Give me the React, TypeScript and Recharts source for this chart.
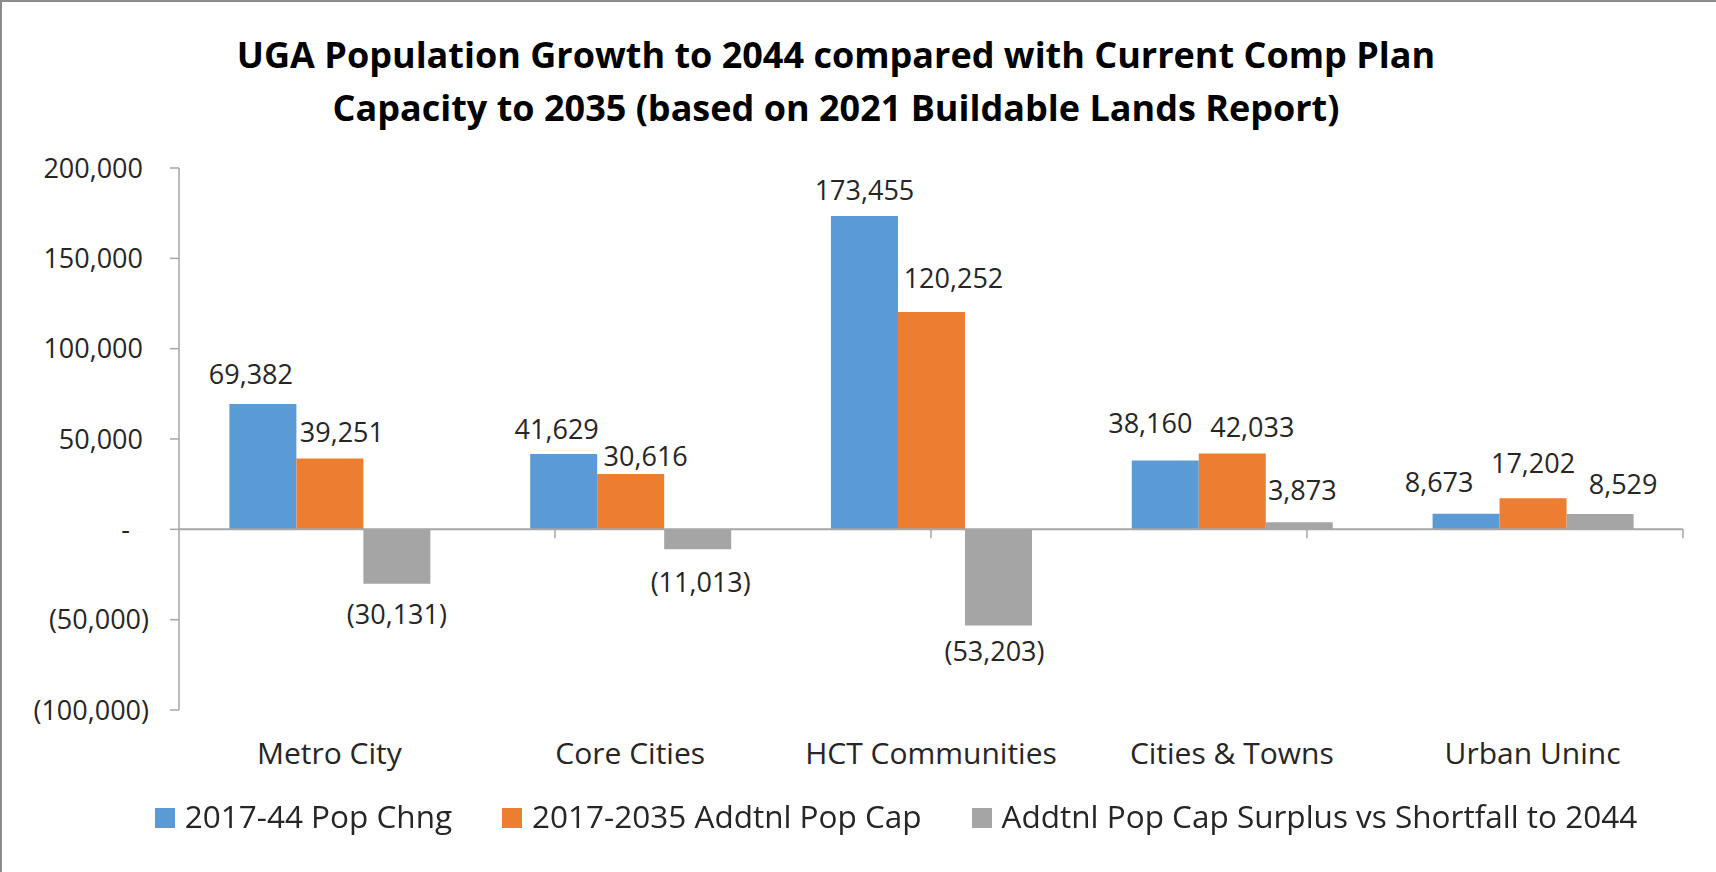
import { BarChart, Bar, XAxis, YAxis, ReferenceLine, LabelList } from 'recharts';

const categories = ['Metro City', 'Core Cities', 'HCT Communities', 'Cities & Towns', 'Urban Uninc'];
const popChange = [69382, 41629, 173455, 38160, 8673];
const addtnlCap = [39251, 30616, 120252, 42033, 17202];
const capSurplus = [-30131, -11013, -53203, 3873, 8529];
const seriesNames = [
  '2017-44 Pop Chng',
  '2017-2035 Addtnl Pop Cap',
  'Addtnl Pop Cap Surplus vs Shortfall to 2044',
];
const yTicks = [-100000, -50000, 0, 50000, 100000, 150000, 200000];

// label nudges (the source had some labels dragged sideways by hand)
const blueShift = [-12, -7, 0, -15, -27];
const blueGap = [20, 15, 16, 27, 22];
const orangeShift = [12, 15, 22, 20, 0];
const orangeGap = [16, 8, 24, 16, 25];
const grayShift = [0, 3, -4, 3, 23];
const grayGap = [21, 24, 17, 22, 20];

const COLORS = ['#5B9BD5', '#ED7D31', '#A5A5A5'];
const TEXT = '#262626';
const AXIS = '#A6A6A6';

const data = categories.map((name, i) => ({
  name,
  popChange: popChange[i],
  addtnlCap: addtnlCap[i],
  capSurplus: capSurplus[i],
}));

const fmt = (v: number) => {
  if (v === 0) return '-';
  const s = Math.abs(v).toLocaleString('en-US');
  return v < 0 ? `(${s})` : s;
};

const makeLabel = (values: number[], shifts: number[], gaps: number[]) => (props: any) => {
  const vb = props.viewBox ?? props;
  const { x, y, width, height } = vb;
  const value = Number(props.value);
  const i = props.index ?? values.indexOf(value);
  const top = Math.min(y, y + height);
  const bottom = Math.max(y, y + height);
  const cx = x + width / 2 + (shifts[i] ?? 0);
  const ty = value >= 0 ? top - (gaps[i] ?? 15) : bottom + (gaps[i] ?? 15) + 19;
  return (
    <text x={cx} y={ty} textAnchor="middle" fontSize={27} fill={TEXT}>
      {fmt(value)}
    </text>
  );
};

const YTick = (props: any) => {
  const { x, y, payload } = props;
  const v = payload.value;
  const end = v > 0 ? x - 25 : v < 0 ? x - 19 : x - 38;
  return (
    <text x={end} y={y} dy="0.36em" textAnchor="end" fontSize={27} fill={TEXT}>
      {fmt(v)}
    </text>
  );
};

export default function App() {
  const boundaries = categories.map((_, i) => i + 1);
  return (
    <div
      style={{
        position: 'fixed',
        left: 0,
        top: 0,
        width: 1716,
        height: 872,
        background: '#fff',
        fontFamily: '"Open Sans", sans-serif',
        borderLeft: '2px solid #8C8C8C',
        borderTop: '2px solid #8C8C8C',
        boxSizing: 'border-box',
      }}
    >
      <div
        style={{
          position: 'absolute',
          left: 0,
          top: 26,
          width: 1668,
          textAlign: 'center',
          fontSize: 36,
          fontWeight: 700,
          lineHeight: '53px',
          color: '#000',
        }}
      >
        UGA Population Growth to 2044 compared with Current Comp Plan
        <br />
        Capacity to 2035 (based on 2021 Buildable Lands Report)
      </div>

      <div style={{ position: 'absolute', left: -2, top: -2 }}>
        <BarChart
          width={1716}
          height={872}
          data={data}
          margin={{ top: 168, right: 33, bottom: 0, left: 0 }}
          barGap={0}
          barCategoryGap="16.75%"
        >
          <XAxis
            dataKey="name"
            axisLine={false}
            tickLine={false}
            tickSize={0}
            tickMargin={33}
            height={162}
            interval={0}
            tick={{ fontSize: 30, fill: TEXT }}
          />
          <XAxis xAxisId="grid" type="number" domain={[0, categories.length]} hide />
          <YAxis
            width={179}
            domain={[-100000, 200000]}
            ticks={yTicks}
            interval={0}
            axisLine={{ stroke: AXIS, strokeWidth: 1.5 }}
            tickLine={{ stroke: AXIS, strokeWidth: 1.5 }}
            tickSize={9}
            tick={<YTick />}
          />
          <ReferenceLine y={0} stroke={AXIS} strokeWidth={2} />
          {boundaries.map((k) => (
            <ReferenceLine
              key={k}
              xAxisId="grid"
              segment={[
                { x: k, y: 0 },
                { x: k, y: -5000 },
              ]}
              stroke={AXIS}
              strokeWidth={1.5}
            />
          ))}
          <Bar dataKey="popChange" name={seriesNames[0]} fill={COLORS[0]} isAnimationActive={false}>
            <LabelList dataKey="popChange" content={makeLabel(popChange, blueShift, blueGap)} />
          </Bar>
          <Bar dataKey="addtnlCap" name={seriesNames[1]} fill={COLORS[1]} isAnimationActive={false}>
            <LabelList dataKey="addtnlCap" content={makeLabel(addtnlCap, orangeShift, orangeGap)} />
          </Bar>
          <Bar dataKey="capSurplus" name={seriesNames[2]} fill={COLORS[2]} isAnimationActive={false}>
            <LabelList dataKey="capSurplus" content={makeLabel(capSurplus, grayShift, grayGap)} />
          </Bar>
        </BarChart>
      </div>

      <div
        style={{
          position: 'absolute',
          left: 14,
          top: 794,
          width: 1760,
          display: 'flex',
          justifyContent: 'center',
          alignItems: 'center',
          fontSize: 31.5,
          lineHeight: '40px',
          color: TEXT,
          whiteSpace: 'nowrap',
        }}
      >
        {seriesNames.map((s, i) => (
          <div key={s} style={{ display: 'flex', alignItems: 'center', marginRight: i < 2 ? 50 : 0 }}>
            <span
              style={{
                display: 'inline-block',
                width: 20,
                height: 20,
                background: COLORS[i],
                marginRight: 10,
                marginTop: 3,
              }}
            />
            <span>{s}</span>
          </div>
        ))}
      </div>
    </div>
  );
}
